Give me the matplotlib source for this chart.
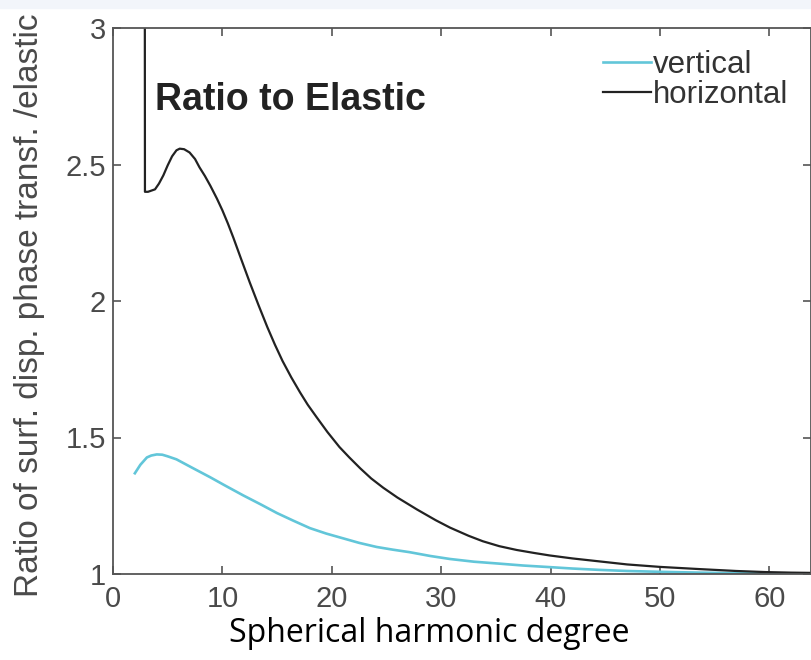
import matplotlib
matplotlib.use("Agg")
import matplotlib.pyplot as plt
from matplotlib.patches import Rectangle

# spherical harmonic degree and ratio
deg_h = [2.9, 2.92, 3.2, 3.84, 4.2, 4.6, 5.0, 5.4, 5.8, 6.1, 6.5, 7.0, 7.5,
         7.9, 8.4, 8.9, 9.5, 10.0, 10.5, 11.0, 11.7, 12.5, 13.3, 14.1, 14.8,
         15.5, 16.3, 17.1, 17.8, 18.6, 19.6, 20.7, 21.6, 22.6, 23.6, 24.7,
         26.0, 27.8, 29.5, 30.8, 32.5, 33.8, 35.3, 36.9, 38.5, 39.9, 42.0,
         44.5, 47.0, 50.0, 53.6, 57.0, 59.7, 62.0, 64.0]
ratio_h = [3.6, 2.40, 2.40, 2.409, 2.43, 2.46, 2.497, 2.53, 2.552, 2.558,
           2.556, 2.544, 2.52, 2.49, 2.458, 2.422, 2.375, 2.332, 2.284, 2.232,
           2.155, 2.068, 1.985, 1.905, 1.84, 1.78, 1.72, 1.665, 1.62, 1.575,
           1.52, 1.465, 1.427, 1.387, 1.35, 1.316, 1.28, 1.236, 1.197, 1.170,
           1.140, 1.120, 1.102, 1.088, 1.077, 1.068, 1.057, 1.046, 1.035, 1.026,
           1.018, 1.011, 1.007, 1.005, 1.004]

deg_v = [2.0, 2.5, 3.1, 3.5, 4.0, 4.5, 5.0, 5.8, 7.2, 8.9, 10.2, 11.9, 13.5,
         15.0, 16.5, 18.0, 19.5, 21.0, 22.5, 24.1, 25.6, 27.1, 29.0, 30.8,
         33.0, 35.3, 37.5, 40.0, 42.0, 44.5, 47.0, 50.0, 53.6, 57.0, 60.0, 64.0]
ratio_v = [1.369, 1.40, 1.427, 1.434, 1.438, 1.437, 1.431, 1.42, 1.39, 1.354,
           1.325, 1.288, 1.255, 1.223, 1.195, 1.168, 1.148, 1.131, 1.114, 1.099,
           1.089, 1.080, 1.066, 1.055, 1.045, 1.038, 1.031, 1.025, 1.020, 1.015,
           1.011, 1.008, 1.005, 1.003, 1.002, 1.001]

labels = ["vertical", "horizontal"]
xticks = [0, 10, 20, 30, 40, 50, 60]
yticks = [1, 1.5, 2, 2.5, 3]
yticklabels = ["1", "1.5", "2", "2.5", "3"]

fig = plt.figure(figsize=(8.12, 6.60), dpi=100)
fig.patches.append(Rectangle((0, 1 - 8 / 660), 1, 8 / 660, transform=fig.transFigure,
                             color="#f2f5fa", zorder=0))
ax = fig.add_axes([113 / 812, 1 - 574 / 660, 698 / 812, 546 / 660])

ax.plot(deg_v, ratio_v, color="#62c6d9", lw=1.9, label=labels[0])
ax.plot(deg_h, ratio_h, color="#222222", lw=1.6, label=labels[1])

ax.set_xlim(0, 63.8)
ax.set_ylim(1, 3)
ax.set_xticks(xticks)
ax.set_yticks(yticks)
ax.set_yticklabels(yticklabels)
ax.tick_params(direction="in", length=6, width=1.2, colors="#555555",
               labelcolor="#4a4a4a", labelsize=21, top=True, right=True, pad=5)
ax.tick_params(axis="x", pad=8)
for tl in ax.get_xticklabels() + ax.get_yticklabels():
    tl.set_family("Liberation Sans")
for s in ax.spines.values():
    s.set_color("#555555")
    s.set_linewidth(1.3)

ax.text(0.060, 0.868, "Ratio to Elastic", transform=ax.transAxes, fontsize=27,
        fontweight="bold", family="Liberation Sans", color="#222222", va="center")

leg = ax.legend(loc="upper left", bbox_to_anchor=(0.702, 0.96), frameon=False,
                handlelength=1.55, handletextpad=0.05, labelspacing=0.0,
                borderpad=0, borderaxespad=0,
                prop={"family": "Liberation Sans", "size": 22.5})
for t in leg.get_texts():
    t.set_color("#333333")

fig.text(30 / 812, 1 - 597 / 660, "Ratio of surf. disp. phase transf. /elastic",
         rotation=90, ha="center", va="bottom", fontsize=24,
         family="Liberation Sans", color="#4a4a4a")
fig.text(429 / 812, 1 - 633 / 660, "Spherical harmonic degree", ha="center",
         va="center", fontsize=23, family="Open Sans", color="black")

fig.savefig("out.png", dpi=100)
